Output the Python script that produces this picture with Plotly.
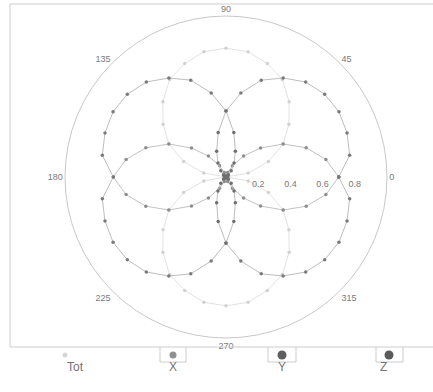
import plotly.graph_objects as go

# Sample angles (degrees) shared by all four components
theta = [0, 10, 20, 30, 40, 50, 60, 70, 80, 90, 100, 110, 120, 130, 140, 150, 160, 170,
         180, 190, 200, 210, 220, 230, 240, 250, 260, 270, 280, 290, 300, 310, 320, 330, 340, 350]

# Directional response of each component
r_tot = [0.00, 0.14, 0.28, 0.41, 0.51, 0.61, 0.70, 0.75, 0.79, 0.80, 0.79, 0.75, 0.70, 0.61, 0.51, 0.41, 0.28, 0.14,
         0.00, 0.14, 0.28, 0.41, 0.51, 0.61, 0.70, 0.75, 0.79, 0.80, 0.79, 0.75, 0.70, 0.61, 0.51, 0.41, 0.28, 0.14]
r_x = [0.70, 0.63, 0.53, 0.41, 0.28, 0.17, 0.08, 0.03, 0.01, 0.00, 0.01, 0.03, 0.08, 0.17, 0.28, 0.41, 0.53, 0.63,
       0.70, 0.63, 0.53, 0.41, 0.28, 0.17, 0.08, 0.03, 0.01, 0.00, 0.01, 0.03, 0.08, 0.17, 0.28, 0.41, 0.53, 0.63]
r_y = [0.70, 0.78, 0.80, 0.81, 0.80, 0.77, 0.71, 0.64, 0.53, 0.41, 0.53, 0.64, 0.71, 0.77, 0.80, 0.81, 0.80, 0.78,
       0.70, 0.78, 0.80, 0.81, 0.80, 0.77, 0.71, 0.64, 0.53, 0.41, 0.53, 0.64, 0.71, 0.77, 0.80, 0.81, 0.80, 0.78]
r_z = [0.00, 0.00, 0.00, 0.01, 0.02, 0.05, 0.10, 0.17, 0.28, 0.41, 0.28, 0.17, 0.10, 0.05, 0.02, 0.01, 0.00, 0.00,
       0.00, 0.00, 0.00, 0.01, 0.02, 0.05, 0.10, 0.17, 0.28, 0.41, 0.28, 0.17, 0.10, 0.05, 0.02, 0.01, 0.00, 0.00]

series_names = ["Tot", "X", "Y", "Z"]
angle_ticks = [0, 45, 90, 135, 180, 225, 270, 315]
radial_ticks = [0.2, 0.4, 0.6, 0.8]

line_colors = ["#e2e2e2", "#c2c2c2", "#bdbdbd", "#bdbdbd"]
marker_colors = ["#d2d2d2", "#8e8e8e", "#7a7a7a", "#6e6e6e"]
marker_sizes = [3.5, 3.5, 3.5, 3.5]

W, H = 433, 392


def closed(values):
    return list(values) + [values[0]]


fig = go.Figure()
for name, r, lc, mc, ms in zip(series_names, [r_tot, r_x, r_y, r_z], line_colors, marker_colors, marker_sizes):
    fig.add_trace(go.Scatterpolar(
        r=closed(r), theta=closed(theta), name=name, mode="lines+markers",
        line=dict(color=lc, width=1),
        marker=dict(color=mc, size=ms),
        showlegend=False,
    ))

# Polar area: centre at (226, 177) px, radius 161 px
cx, cy, rad = 226, 177, 161
fig.update_layout(
    width=W, height=H,
    margin=dict(l=0, r=0, t=0, b=0),
    paper_bgcolor="white",
    font=dict(family="Liberation Sans, Arial, sans-serif", size=9, color="#7a7a7a"),
    polar=dict(
        domain=dict(x=[(cx - rad) / W, (cx + rad) / W],
                    y=[(H - cy - rad) / H, (H - cy + rad) / H]),
        bgcolor="white",
        angularaxis=dict(
            rotation=0, direction="counterclockwise",
            tickvals=angle_ticks, ticktext=[str(a) for a in angle_ticks],
            showgrid=False, showline=True, linecolor="#c8c8c8", linewidth=1,
            ticks="", tickfont=dict(size=9, color="#7a7a7a"),
        ),
        radialaxis=dict(
            range=[0, 1], tickvals=radial_ticks, ticktext=[f"{v:.1f}" for v in radial_ticks],
            angle=0, side="clockwise", showline=False, showgrid=False, ticks="",
            tickfont=dict(size=9, color="#7a7a7a"),
        ),
    ),
)

# Outer frame around the plot area
frame_col = "#cccccc"
fig.add_shape(type="rect", xref="paper", yref="paper",
              x0=10 / W, x1=1.05, y0=(H - 347) / H, y1=(H - 4) / H,
              line=dict(color=frame_col, width=1))

# Legend row under the frame: swatch above each label, tab boxes for X, Y, Z
legend_x = [65, 173, 282, 389]
legend_boxes = [None, (160, 186), (268, 296), (376, 403)]
swatch_size = [2.5, 3.5, 4.5, 4.5]
swatch_colors = ["#d6d6d6", "#909090", "#5e5e5e", "#5a5a5a"]
for name, lx, box, sc, ss in zip(series_names, legend_x, legend_boxes, swatch_colors, swatch_size):
    if box is not None:
        fig.add_shape(type="path", xref="paper", yref="paper",
                      path=(f"M {box[0] / W},{(H - 347) / H} L {box[0] / W},{(H - 362) / H} "
                            f"L {box[1] / W},{(H - 362) / H} L {box[1] / W},{(H - 347) / H}"),
                      line=dict(color=frame_col, width=1))
    fig.add_shape(type="circle", xref="paper", yref="paper",
                  x0=(lx - ss) / W, x1=(lx + ss) / W,
                  y0=(H - 355 - ss) / H, y1=(H - 355 + ss) / H,
                  line=dict(width=0), fillcolor=sc)
    fig.add_annotation(x=lx / W, y=(H - 376) / H, xref="paper", yref="paper",
                       text=name, showarrow=False,
                       font=dict(size=12, color="#757575"))

fig.write_html("out.html")
